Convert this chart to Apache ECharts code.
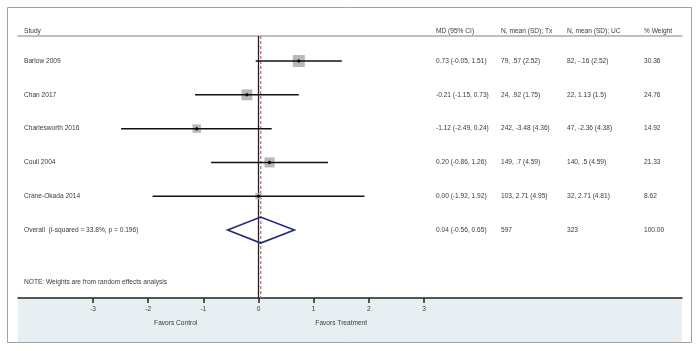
<!DOCTYPE html>
<html>
<head>
<meta charset="utf-8">
<script src="https://cdn.jsdelivr.net/npm/echarts@6/dist/echarts.min.js"></script>
<style>
  html, body { margin: 0; padding: 0; background: #fff; }
  #chart { width: 700px; height: 351px; }
</style>
</head>
<body>
<div id="chart"></div>
<script>
// study data
const studies = ['Barlow 2009', 'Chan 2017', 'Charlesworth 2016', 'Coull 2004', 'Crane-Okada 2014'];
const md = [0.73, -0.21, -1.12, 0.20, 0.00];
const ciLow = [-0.05, -1.15, -2.49, -0.86, -1.92];
const ciHigh = [1.51, 0.73, 0.24, 1.26, 1.92];
const weights = [30.36, 24.76, 14.92, 21.33, 8.62];
const mdText = ['0.73 (-0.05, 1.51)', '-0.21 (-1.15, 0.73)', '-1.12 (-2.49, 0.24)', '0.20 (-0.86, 1.26)', '0.00 (-1.92, 1.92)'];
const txText = ['79, .57 (2.52)', '24, .92 (1.75)', '242, -3.48 (4.36)', '149, .7 (4.59)', '103, 2.71 (4.95)'];
const ucText = ['82, -.16 (2.52)', '22, 1.13 (1.5)', '47, -2.36 (4.38)', '140, .5 (4.59)', '32, 2.71 (4.81)'];
const weightText = ['30.36', '24.76', '14.92', '21.33', '8.62'];

// pooled estimate
const overallLabel = 'Overall  (I-squared = 33.8%, p = 0.196)';
const overallMd = 0.04;
const overallLow = -0.56;
const overallHigh = 0.65;
const overallRow = ['0.04 (-0.56, 0.65)', '597', '323', '100.00'];

const headers = ['Study', 'MD (95% CI)', 'N, mean (SD); Tx', 'N, mean (SD); UC', '% Weight'];
const xTicks = [-3, -2, -1, 0, 1, 2, 3];
const sideLabels = [[-1.5, 'Favors Control'], [1.5, 'Favors Treatment']];
const note = 'NOTE: Weights are from random effects analysis';

const FONT = 'Liberation Sans, Arial, sans-serif';
const TXT = '#3a3a3a';
const FS = 6.6;
const colX = [24, 436, 501, 567, 644];
const nStudy = studies.length;
const overallIdx = nStudy;
const noteIdx = 6.54;
const headerIdx = -0.885;

const chart = echarts.init(document.getElementById('chart'));

function txt(x, y, s, align) {
  return {
    type: 'text',
    x: x, y: y,
    style: { text: s, fill: TXT, font: FS + 'px ' + FONT, align: align || 'left', verticalAlign: 'middle' }
  };
}

// row text table
const tableRows = studies.map((s, i) => [i, s, mdText[i], txText[i], ucText[i], weightText[i]]);
tableRows.push([overallIdx, overallLabel].concat(overallRow));
tableRows.push([headerIdx].concat(headers));
tableRows.push([noteIdx, note, '', '', '', '']);

const studyData = studies.map((s, i) => [ciLow[i], ciHigh[i], md[i], i, weights[i]]);

const option = {
  animation: false,
  backgroundColor: '#fff',
  graphic: [
    { type: 'rect', shape: { x: 7.5, y: 7.5, width: 684, height: 335 }, style: { fill: 'none', stroke: '#a0a0a0', lineWidth: 1 }, z: -2 },
    { type: 'rect', shape: { x: 18, y: 298, width: 664, height: 44 }, style: { fill: '#e8eff3' }, z: -1 }
  ],
  grid: { left: 18, right: 18, top: 36, bottom: 53 },
  xAxis: [{
    type: 'value',
    min: -4.359, max: 7.676,
    position: 'bottom',
    splitLine: { show: false },
    axisLine: { onZero: false, lineStyle: { color: '#222', width: 1.5 } },
    axisTick: { length: 5, lineStyle: { color: '#222', width: 1.5 }, customValues: xTicks },
    axisLabel: { customValues: xTicks, color: TXT, fontSize: FS, fontFamily: FONT, margin: 8 }
  }, {
    type: 'value',
    min: -4.359, max: 7.676,
    position: 'top',
    splitLine: { show: false },
    axisLine: { onZero: false, lineStyle: { color: '#aaa', width: 1.5 } },
    axisTick: { show: false },
    axisLabel: { show: false }
  }],
  yAxis: {
    type: 'value', inverse: true, min: -0.74, max: 7.01,
    show: false
  },
  series: [
    {
      type: 'line', data: [[0, -0.74], [0, 7.01]], symbol: 'none',
      lineStyle: { color: '#222', width: 1.3 }, z: 1
    },
    {
      type: 'line', data: [[overallMd, -0.74], [overallMd, 7.01]], symbol: 'none',
      lineStyle: { color: '#b37a84', width: 1.3, type: [3, 2] }, z: 2
    },
    {
      type: 'custom',
      data: studyData,
      encode: { x: [0, 1, 2], y: 3 },
      clip: false,
      z: 3,
      renderItem: function (params, api) {
        const a = api.coord([api.value(0), api.value(3)]);
        const b = api.coord([api.value(1), api.value(3)]);
        const c = api.coord([api.value(2), api.value(3)]);
        const s = 2.18 * Math.sqrt(api.value(4));
        return {
          type: 'group',
          children: [
            { type: 'rect', shape: { x: c[0] - s / 2, y: c[1] - s / 2, width: s, height: s }, style: { fill: '#b8b8b8' } },
            { type: 'line', shape: { x1: a[0], y1: a[1], x2: b[0], y2: b[1] }, style: { stroke: '#111', lineWidth: 1.5 } },
            { type: 'polygon', shape: { points: [[c[0] - 2, c[1]], [c[0], c[1] - 2], [c[0] + 2, c[1]], [c[0], c[1] + 2]] }, style: { fill: '#000' } }
          ]
        };
      }
    },
    {
      type: 'custom',
      data: [[overallLow, overallHigh, overallMd, overallIdx]],
      encode: { x: [0, 1, 2], y: 3 },
      clip: false,
      z: 4,
      renderItem: function (params, api) {
        const a = api.coord([api.value(0), api.value(3)]);
        const b = api.coord([api.value(1), api.value(3)]);
        const c = api.coord([api.value(2), api.value(3)]);
        return {
          type: 'polygon',
          shape: { points: [[a[0], a[1]], [c[0], c[1] - 13], [b[0], b[1]], [c[0], c[1] + 13]] },
          style: { fill: 'none', stroke: '#1f2a7a', lineWidth: 1.6 }
        };
      }
    },
    {
      type: 'custom',
      data: tableRows,
      encode: { y: 0 },
      clip: false,
      silent: true,
      z: 5,
      renderItem: function (params, api) {
        const y = api.coord([0, api.value(0)])[1];
        const r = tableRows[params.dataIndex];
        const kids = [];
        for (let k = 1; k < r.length; k++) {
          if (r[k]) kids.push(txt(colX[k - 1], y, r[k]));
        }
        return { type: 'group', children: kids };
      }
    },
    {
      type: 'custom',
      data: sideLabels,
      clip: false,
      silent: true,
      renderItem: function (params, api) {
        const p = api.coord([sideLabels[params.dataIndex][0], 7.75]);
        return txt(p[0], p[1], sideLabels[params.dataIndex][1], 'center');
      }
    }
  ]
};

chart.setOption(option);
</script>
</body>
</html>
